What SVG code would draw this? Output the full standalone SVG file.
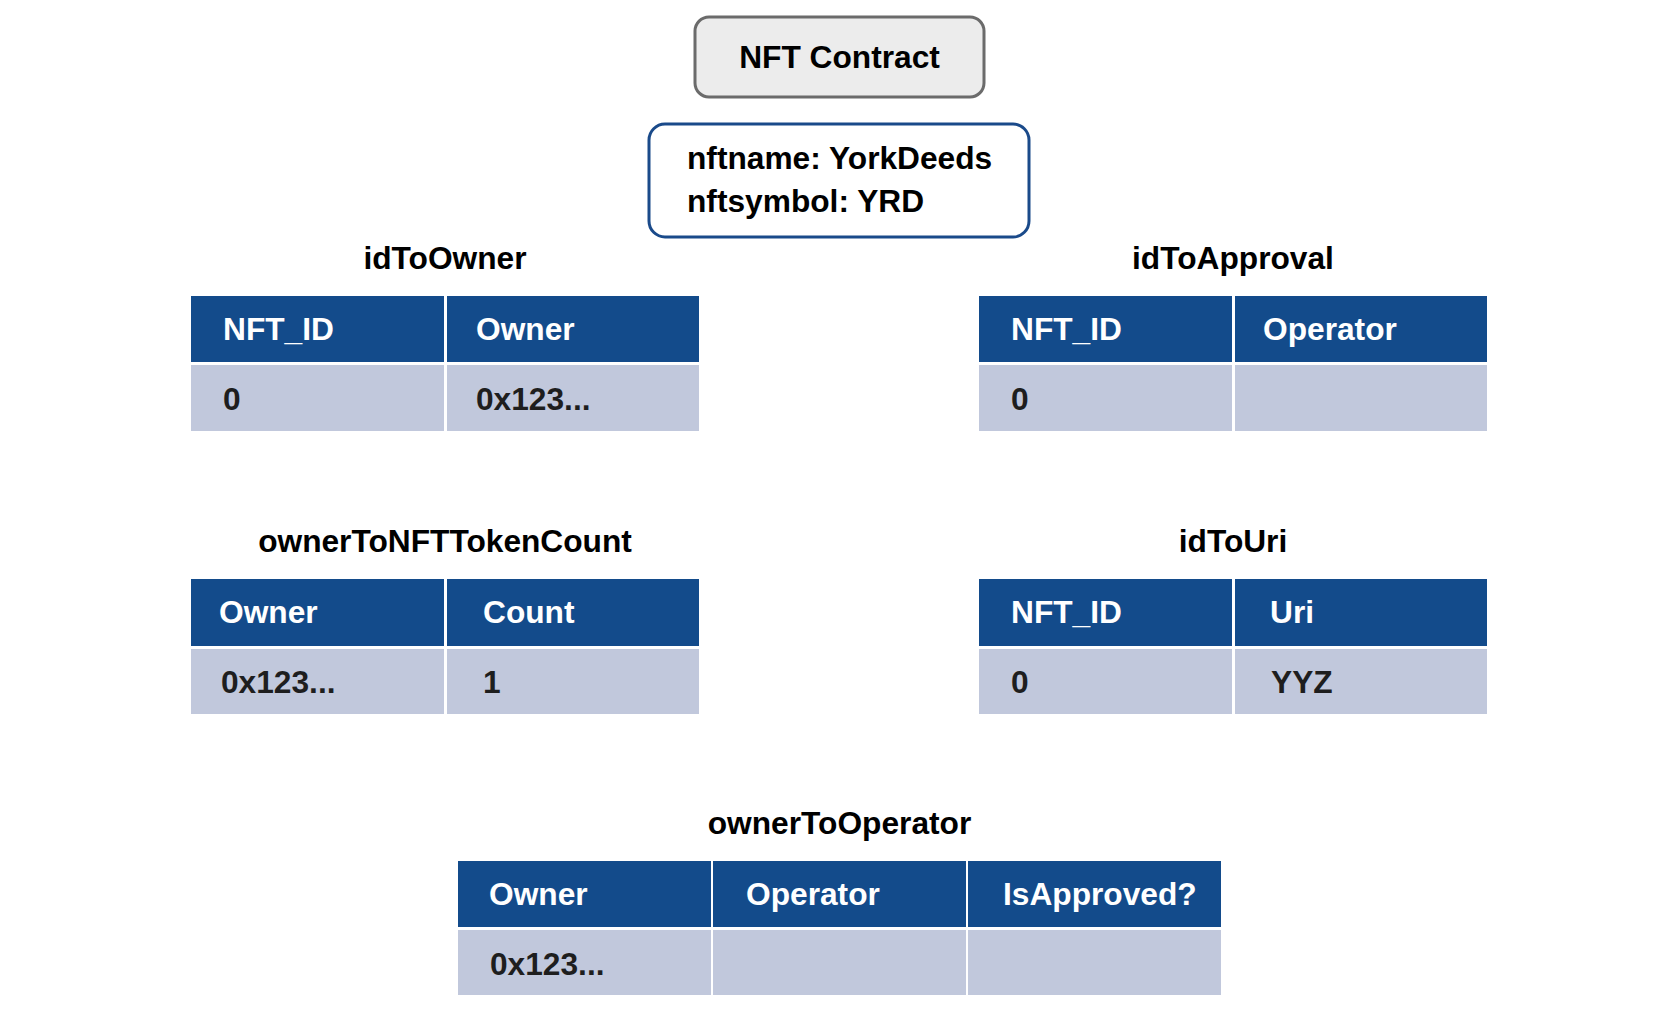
<svg xmlns="http://www.w3.org/2000/svg" width="1680" height="1016" viewBox="0 0 1680 1016">
<style>
text{font-family:"Liberation Sans",Arial,sans-serif;font-weight:bold;font-size:31.7px}
.title{fill:#000;text-anchor:middle}
.hd{fill:#134b8b}
.rw{fill:#c1c8dc}
.ht{fill:#fff}
.dt{fill:#1e1e1e}
</style>
<rect width="1680" height="1016" fill="#fff"/>
<g id="contract">
<rect x="695" y="17" width="289" height="80" rx="14" fill="#ececec" stroke="#6b6b6b" stroke-width="3"/>
<text class="title" x="839.5" y="68">NFT Contract</text>
</g>
<g id="info">
<rect x="649" y="124" width="380" height="113" rx="16" fill="#fff" stroke="#1a4a8a" stroke-width="3"/>
<text x="687" y="169" fill="#000">nftname: YorkDeeds</text>
<text x="687" y="212" fill="#000">nftsymbol: YRD</text>
</g>
<g id="idToOwner">
<text class="title" x="445" y="269">idToOwner</text>
<rect class="hd" x="191" y="296" width="253" height="66"/>
<rect class="hd" x="447" y="296" width="252" height="66"/>
<rect class="rw" x="191" y="365" width="253" height="66"/>
<rect class="rw" x="447" y="365" width="252" height="66"/>
<text class="ht" x="223" y="340">NFT_ID</text>
<text class="ht" x="476" y="340">Owner</text>
<text class="dt" x="223" y="410">0</text>
<text class="dt" x="476" y="410">0x123...</text>
</g>
<g id="idToApproval">
<text class="title" x="1233" y="269">idToApproval</text>
<rect class="hd" x="979" y="296" width="253" height="66"/>
<rect class="hd" x="1235" y="296" width="252" height="66"/>
<rect class="rw" x="979" y="365" width="253" height="66"/>
<rect class="rw" x="1235" y="365" width="252" height="66"/>
<text class="ht" x="1011" y="340">NFT_ID</text>
<text class="ht" x="1263" y="340">Operator</text>
<text class="dt" x="1011" y="410">0</text>
</g>
<g id="ownerToNFTTokenCount">
<text class="title" x="445" y="552">ownerToNFTTokenCount</text>
<rect class="hd" x="191" y="579" width="253" height="67"/>
<rect class="hd" x="447" y="579" width="252" height="67"/>
<rect class="rw" x="191" y="649" width="253" height="65"/>
<rect class="rw" x="447" y="649" width="252" height="65"/>
<text class="ht" x="219" y="623">Owner</text>
<text class="ht" x="483" y="623">Count</text>
<text class="dt" x="221" y="693">0x123...</text>
<text class="dt" x="483" y="693">1</text>
</g>
<g id="idToUri">
<text class="title" x="1233" y="552">idToUri</text>
<rect class="hd" x="979" y="579" width="253" height="67"/>
<rect class="hd" x="1235" y="579" width="252" height="67"/>
<rect class="rw" x="979" y="649" width="253" height="65"/>
<rect class="rw" x="1235" y="649" width="252" height="65"/>
<text class="ht" x="1011" y="623">NFT_ID</text>
<text class="ht" x="1270" y="623">Uri</text>
<text class="dt" x="1011" y="693">0</text>
<text class="dt" x="1271" y="693">YYZ</text>
</g>
<g id="ownerToOperator">
<text class="title" x="839.5" y="834">ownerToOperator</text>
<rect class="hd" x="458" y="861" width="253" height="66"/>
<rect class="hd" x="713" y="861" width="253" height="66"/>
<rect class="hd" x="968" y="861" width="253" height="66"/>
<rect class="rw" x="458" y="930" width="253" height="65"/>
<rect class="rw" x="713" y="930" width="253" height="65"/>
<rect class="rw" x="968" y="930" width="253" height="65"/>
<text class="ht" x="489" y="905">Owner</text>
<text class="ht" x="746" y="905">Operator</text>
<text class="ht" x="1003" y="905">IsApproved?</text>
<text class="dt" x="490" y="975">0x123...</text>
</g>
<g id="connectors"/>
</svg>
